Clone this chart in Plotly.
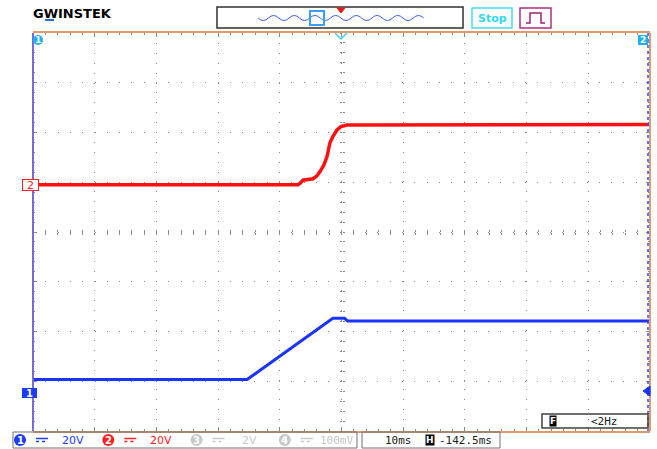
import plotly.graph_objects as go

ch1_t = [0, 34.7, 48.6, 50.5, 51.0, 100]
ch1_v = [5.3, 5.3, 29.9, 29.9, 28.8, 28.8]
ch2_t = [0, 42.95, 43.27, 43.76, 45.38, 46.03, 46.52, 47.16, 47.65, 48.14, 48.62, 49.27, 49.92, 50.89, 100]
ch2_v = [0, 0, 0.5, 1.8, 2.4, 3.6, 5.3, 8.0, 11.3, 17.0, 19.5, 22.0, 23.4, 24.0, 24.2]

# channel ground offsets on screen (V, at 20 V/div)
ch1_offset = -64.6
ch2_offset = 19.0

status_labels = ["20V", "20V", "2V", "100mV"]
status_colors = ["#1a3cff", "#ff2020", "#c8c8c8", "#c8c8c8"]
timebase = "10ms"
h_pos = "-142.5ms"
trig_freq = "<2Hz"

W, H = 657, 449
L, R, T, B = 33, 650, 33, 431


def px(x):
    return (x - L) / (R - L)


def py(y):
    return (B - y) / (B - T)


fig = go.Figure()
fig.add_trace(go.Scatter(x=ch2_t, y=[v + ch2_offset for v in ch2_v], mode="lines",
                         line=dict(color="#ff1010", width=3.5), hoverinfo="skip"))
fig.add_trace(go.Scatter(x=ch1_t, y=[v + ch1_offset for v in ch1_v], mode="lines",
                         line=dict(color="#1a33ff", width=3), hoverinfo="skip"))

grid = "#8a8a8a"
fig.update_layout(
    width=W, height=H,
    margin=dict(l=L, r=W - R, t=T, b=H - B),
    paper_bgcolor="white", plot_bgcolor="white",
    showlegend=False,
    font=dict(family="DejaVu Sans", size=11),
    xaxis=dict(range=[0, 100], dtick=10, showticklabels=False, zeroline=False,
               showgrid=True, gridcolor=grid, gridwidth=1, griddash="1px,8.9px",
               showline=True, linecolor="#e09a70", linewidth=2, mirror="ticks",
               ticks="inside", ticklen=4, tickcolor=grid,
               minor=dict(dtick=2, ticks="inside", ticklen=2, tickcolor=grid)),
    yaxis=dict(range=[-80, 80], dtick=20, showticklabels=False, zeroline=False,
               showgrid=True, gridcolor=grid, gridwidth=1, griddash="1px,11.3px",
               showline=False, mirror="ticks",
               ticks="inside", ticklen=4, tickcolor=grid,
               minor=dict(dtick=4, ticks="inside", ticklen=2, tickcolor=grid)),
    # cross ticks along the centre lines
    xaxis2=dict(overlaying="x", anchor="free", position=0.5, range=[0, 100], dtick=2,
                ticks="outside", ticklen=2, tickcolor=grid, showticklabels=False,
                showgrid=False, zeroline=False, showline=False),
    xaxis3=dict(overlaying="x", anchor="free", position=0.5, range=[0, 100], dtick=2,
                ticks="inside", ticklen=2, tickcolor=grid, showticklabels=False,
                showgrid=False, zeroline=False, showline=False),
    yaxis2=dict(overlaying="y", anchor="free", position=0.5, range=[-80, 80], dtick=4,
                ticks="outside", ticklen=2, tickcolor=grid, showticklabels=False,
                showgrid=False, zeroline=False, showline=False),
    yaxis3=dict(overlaying="y", anchor="free", position=0.5, range=[-80, 80], dtick=4,
                ticks="inside", ticklen=2, tickcolor=grid, showticklabels=False,
                showgrid=False, zeroline=False, showline=False),
)
# invisible traces so the overlay axes get drawn
fig.add_trace(go.Scatter(x=[0], y=[0], xaxis="x2", yaxis="y2", mode="markers",
                         marker=dict(opacity=0), hoverinfo="skip"))
fig.add_trace(go.Scatter(x=[0], y=[0], xaxis="x3", yaxis="y3", mode="markers",
                         marker=dict(opacity=0), hoverinfo="skip"))

shapes = []
ann = []


def line(x0, y0, x1, y1, color, width=1, dash="solid"):
    shapes.append(dict(type="line", xref="paper", yref="paper", x0=px(x0), y0=py(y0),
                       x1=px(x1), y1=py(y1), line=dict(color=color, width=width, dash=dash)))


def rect(x0, y0, x1, y1, color, width=1, fill="rgba(0,0,0,0)"):
    shapes.append(dict(type="rect", xref="paper", yref="paper", x0=px(x0), y0=py(y0),
                       x1=px(x1), y1=py(y1), line=dict(color=color, width=width), fillcolor=fill))


def circle(cx, cy, r, fill):
    shapes.append(dict(type="circle", xref="paper", yref="paper", x0=px(cx - r), y0=py(cy + r),
                       x1=px(cx + r), y1=py(cy - r), line=dict(width=0), fillcolor=fill))


def path(pts, color, width=1, fill=None, close=False):
    d = "M" + " L".join(f"{px(x):.5f},{py(y):.5f}" for x, y in pts) + (" Z" if close else "")
    s = dict(type="path", xref="paper", yref="paper", path=d, line=dict(color=color, width=width))
    if fill:
        s["fillcolor"] = fill
    shapes.append(s)


def text(x, y, s, color="black", size=11, family="DejaVu Sans", anchor="center", **kw):
    ann.append(dict(xref="paper", yref="paper", x=px(x), y=py(y), text=s, showarrow=False,
                    xanchor=anchor, yanchor="middle", font=dict(color=color, size=size, family=family), **kw))


# plot frame
line(L, T, L, B, "#7a6ad8", 2)
line(R, T, R, B, "#e09a70", 2)
line(R - 2, T, R - 2, B, "#3050ff", 1.5, "dot")

# header: logo, overview, Stop, trigger icon
text(31, 14, "<b>GWINSTEK</b>", "black", 13, anchor="left")
line(45, 20, 54, 20, "#2a6ae0", 2)
rect(217, 7, 463, 28, "#303030", 1.5)
wave = f"M{px(258):.5f},{py(18):.5f} Q{px(263.2):.5f},{py(23):.5f} {px(268.4):.5f},{py(18):.5f}"
xw = 268.4
while xw < 422:
    xw += 10.35
    wave += f" T{px(xw):.5f},{py(18):.5f}"
shapes.append(dict(type="path", xref="paper", yref="paper", path=wave, line=dict(color="#3a60e0", width=1)))
rect(310, 11, 324, 25, "#3aa0ff", 2)
path([(337, 8), (345, 8), (341, 13)], "#e02020", 1, "#e02020", True)
rect(472, 8, 512, 28, "#40e0f0", 1.5)
text(492, 18, "<b>Stop</b>", "#30d8f0", 11)
rect(520, 8, 551, 28, "#b03080", 1.5)
path([(526, 23), (530, 23), (530, 13), (541, 13), (541, 23), (545, 23)], "#a02070", 1.5)

# on-screen markers
path([(335, 33), (341, 39), (347, 33)], "#40d0f0", 1.5)
circle(38, 40, 5, "#20b0f0")
text(38, 40, "<b>1</b>", "white", 9)
rect(638, 35, 648, 45, "#20b0f0", 0, "#20b0f0")
text(643, 40, "<b>2</b>", "white", 9)
path([(650, 386), (643, 391), (650, 396)], "#1a33ff", 1, "#1a33ff", True)
ann.append(dict(xref="paper", yref="y", x=px(22), y=ch2_offset, text="2", showarrow=False,
                font=dict(color="#ff2020", size=11), bordercolor="#ff2020", borderwidth=1,
                bgcolor="white", borderpad=0, width=15, height=10))
ann.append(dict(xref="paper", yref="y", x=px(22), y=ch1_offset, text="<b>1</b>", showarrow=False,
                font=dict(color="white", size=10), bordercolor="#1a3cff", borderwidth=1,
                bgcolor="#1a3cff", borderpad=0, width=13, height=8))

# status bar
rect(13, 432, 357, 448, "#707070", 1)
rect(362, 432, 500, 448, "#707070", 1)
for i, (lab, col) in enumerate(zip(status_labels, status_colors)):
    cx = 20 + i * 88.3
    circle(cx, 440, 6, col)
    text(cx, 440, f"<b>{i + 1}</b>", "white", 10)
    line(cx + 16, 438.5, cx + 28, 438.5, col, 1.5)
    line(cx + 16, 441.5, cx + 28, 441.5, col, 1.5, "dot")
    if i < 3:
        text(cx + 53, 440, lab, col, 11)
    else:
        text(355, 440, lab, col, 11, "DejaVu Sans Mono", anchor="right")
text(398, 440, timebase, "#202020", 11, "DejaVu Sans Mono")
text(430, 440, "<b>H</b>", "white", 9, bgcolor="black", borderpad=0)
text(465, 440, h_pos, "#202020", 11, "DejaVu Sans Mono")
rect(542, 414, 648, 428, "#404040", 1.5)
text(553, 421, "<b>F</b>", "white", 9, bgcolor="black", borderpad=0)
text(604, 421, trig_freq, "#202020", 11, "DejaVu Sans Mono")

fig.update_layout(shapes=shapes, annotations=ann)
fig.write_html("out.html", config=dict(displayModeBar=False),
               post_script="document.body.style.margin='0';")
